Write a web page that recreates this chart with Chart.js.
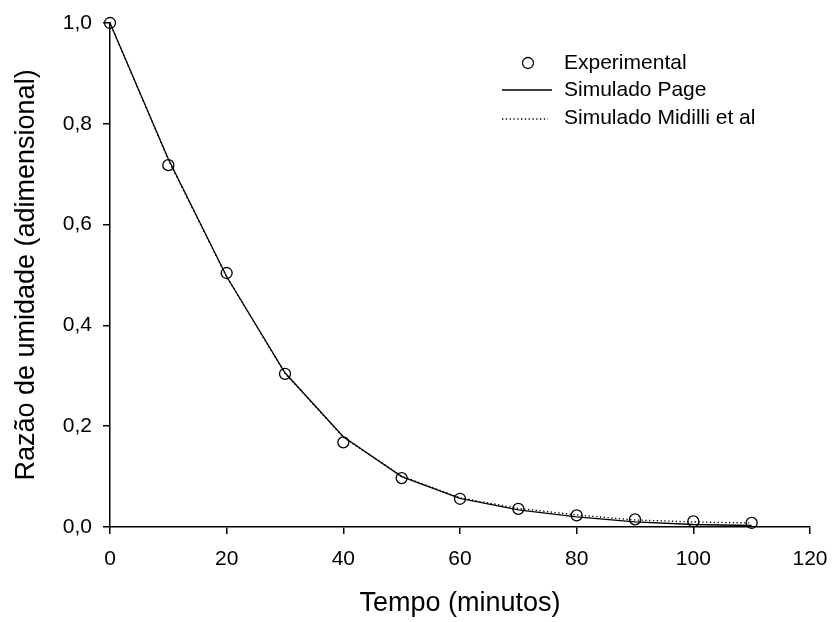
<!DOCTYPE html>
<html>
<head>
<meta charset="utf-8">
<script src="https://cdn.jsdelivr.net/npm/chart.js@4/dist/chart.umd.min.js"></script>
<style>
  html, body { margin: 0; padding: 0; background: #fff; }
  #wrap { width: 834px; height: 622px; }
</style>
</head>
<body>
<div id="wrap"><canvas id="secagem"></canvas></div>
<script>
// tempo de secagem (min) e razao de umidade
var tempo = [0, 10, 20, 30, 40, 50, 60, 70, 80, 90, 100, 110];
var experimental = [1.0, 0.718, 0.504, 0.304, 0.168, 0.097, 0.056, 0.036, 0.023, 0.015, 0.011, 0.008];
var simPage = [1.0, 0.730, 0.497, 0.306, 0.179, 0.100, 0.057, 0.034, 0.020, 0.010, 0.005, 0.003];
var simMidilli = [1.0, 0.728, 0.496, 0.305, 0.178, 0.101, 0.058, 0.037, 0.024, 0.014, 0.010, 0.008];
var xTicks = [0, 20, 40, 60, 80, 100, 120];
var yTicks = [0, 0.2, 0.4, 0.6, 0.8, 1.0];

var FONT = "'Liberation Sans', Arial, sans-serif";

function pts(ys) {
  return tempo.map(function (t, i) { return { x: t, y: ys[i] }; });
}

// legenda desenhada a mao, no canto superior direito
var legendaPlugin = {
  id: 'legenda',
  afterDraw: function (chart) {
    var ctx = chart.ctx;
    ctx.save();
    ctx.font = '21px ' + FONT;
    ctx.fillStyle = '#000';
    ctx.strokeStyle = '#000';
    ctx.textBaseline = 'middle';
    ctx.textAlign = 'left';

    ctx.lineWidth = 1.3;
    ctx.beginPath();
    ctx.arc(528, 63, 5.5, 0, Math.PI * 2);
    ctx.stroke();
    ctx.fillText('Experimental', 564, 63);

    ctx.lineWidth = 1.3;
    ctx.beginPath();
    ctx.moveTo(502, 90);
    ctx.lineTo(552, 90);
    ctx.stroke();
    ctx.fillText('Simulado Page', 564, 90);

    ctx.lineWidth = 1.3;
    ctx.setLineDash([1.3, 2.5]);
    ctx.beginPath();
    ctx.moveTo(502, 119);
    ctx.lineTo(548, 119);
    ctx.stroke();
    ctx.setLineDash([]);
    ctx.fillText('Simulado Midilli et al', 564, 118);
    ctx.restore();
  }
};

var ctx = document.getElementById('secagem').getContext('2d');
var chart = new Chart(ctx, {
  type: 'scatter',
  data: {
    datasets: [
      {
        label: 'Simulado Midilli et al',
        data: pts(simMidilli),
        showLine: true,
        borderColor: '#000',
        borderWidth: 1.3,
        borderDash: [1.3, 2.5],
        pointRadius: 0,
        tension: 0,
        clip: false
      },
      {
        label: 'Simulado Page',
        data: pts(simPage),
        showLine: true,
        borderColor: '#000',
        borderWidth: 1.3,
        pointRadius: 0,
        tension: 0,
        clip: false
      },
      {
        label: 'Experimental',
        data: pts(experimental),
        showLine: false,
        pointStyle: 'circle',
        pointRadius: 5.5,
        pointBorderWidth: 1.3,
        pointBorderColor: '#000',
        pointBackgroundColor: 'rgba(0,0,0,0)',
        clip: false
      }
    ]
  },
  options: {
    responsive: true,
    maintainAspectRatio: false,
    animation: false,
    layout: { padding: { top: 23, right: 24, left: 0, bottom: 0 } },
    plugins: {
      legend: { display: false },
      tooltip: { enabled: false }
    },
    scales: {
      x: {
        type: 'linear',
        min: 0,
        max: 120,
        afterFit: function (s) {
          s.height = 95;
          s.paddingLeft = 0;
          s.paddingRight = 0;
        },
        afterBuildTicks: function (s) { s.ticks = xTicks.map(function (v) { return { value: v }; }); },
        border: { display: true, color: '#000', width: 1.5 },
        grid: { display: true, drawOnChartArea: false, drawTicks: true, tickLength: 7, color: '#000', lineWidth: 1.5 },
        ticks: {
          color: '#000',
          padding: 13,
          maxRotation: 0,
          font: { family: FONT, size: 21 }
        },
        title: {
          display: true,
          text: 'Tempo (minutos)',
          color: '#000',
          font: { family: FONT, size: 27 },
          padding: { top: 0, bottom: 2 }
        }
      },
      y: {
        type: 'linear',
        min: 0,
        max: 1.0,
        afterFit: function (s) {
          s.width = 110;
          s.paddingTop = 0;
          s.paddingBottom = 0;
        },
        afterBuildTicks: function (s) { s.ticks = yTicks.map(function (v) { return { value: v }; }); },
        border: { display: true, color: '#000', width: 1.5 },
        grid: { display: true, drawOnChartArea: false, drawTicks: true, tickLength: 7, color: '#000', lineWidth: 1.5 },
        ticks: {
          color: '#000',
          padding: 11,
          font: { family: FONT, size: 21 },
          callback: function (v) { return v.toFixed(1).replace('.', ','); }
        },
        title: {
          display: true,
          text: 'Razão de umidade (adimensional)',
          color: '#000',
          font: { family: FONT, size: 27 },
          padding: { top: 10, bottom: 0 }
        }
      }
    }
  },
  plugins: [legendaPlugin]
});
</script>
</body>
</html>
